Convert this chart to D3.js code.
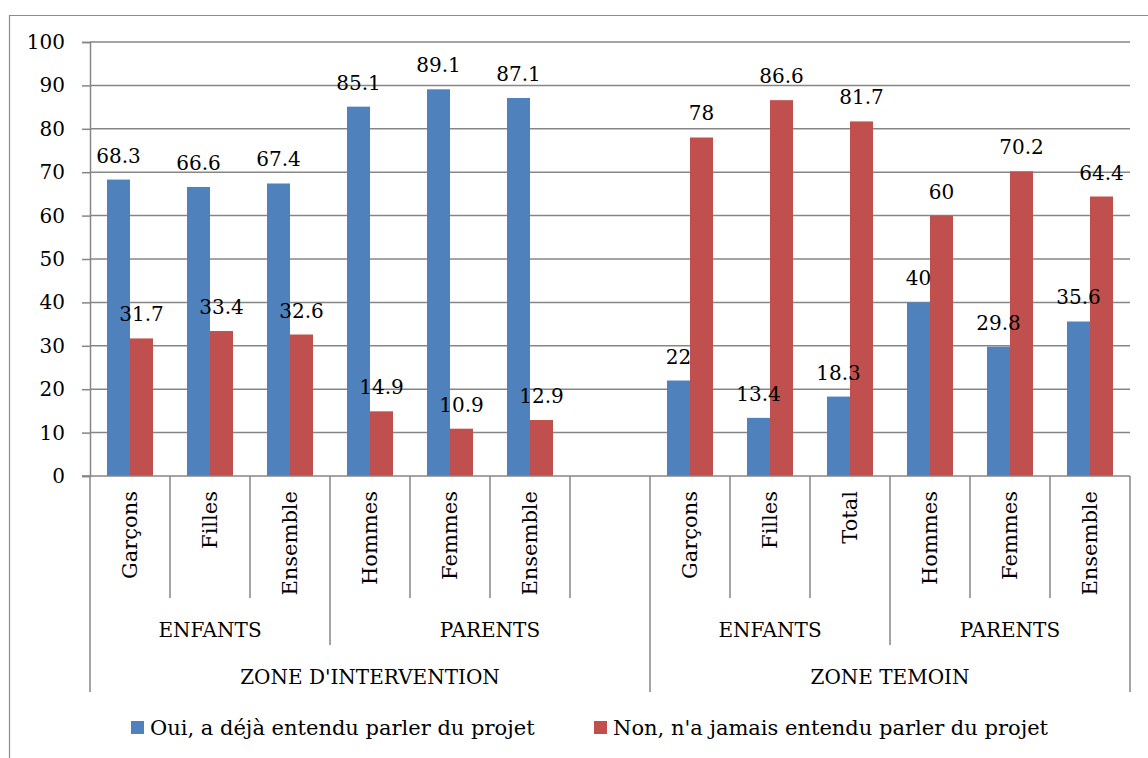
<!DOCTYPE html>
<html>
<head>
<meta charset="utf-8">
<script src="https://cdn.jsdelivr.net/npm/d3@7"></script>
<style>
  body { margin: 0; background: white; }
  text { font-family: "DejaVu Serif", serif; fill: #000; }
</style>
</head>
<body>
<div class="canvas"></div>
<script>
var width = 1148;
var height = 758;

// data
const categories = ["Garçons", "Filles", "Ensemble", "Hommes", "Femmes", "Ensemble", "",
                    "Garçons", "Filles", "Total", "Hommes", "Femmes", "Ensemble"];
const oui = [68.3, 66.6, 67.4, 85.1, 89.1, 87.1, null, 22, 13.4, 18.3, 40, 29.8, 35.6];
const non = [31.7, 33.4, 32.6, 14.9, 10.9, 12.9, null, 78, 86.6, 81.7, 60, 70.2, 64.4];
const groupLabels = ["ENFANTS", "PARENTS", "ENFANTS", "PARENTS"];
const groupStart = [0, 3, 7, 10];
const groupEnd = [3, 7, 10, 13];
const zoneLabels = ["ZONE D'INTERVENTION", "ZONE TEMOIN"];
const zoneStart = [0, 7];
const zoneEnd = [7, 13];
const seriesNames = ["Oui, a déjà entendu parler du projet", "Non, n'a jamais entendu parler du projet"];
const yTicks = [0, 10, 20, 30, 40, 50, 60, 70, 80, 90, 100];

const colors = ["#4F81BD", "#C0504D"];
const gridColor = "#868686";

const plot = { left: 90, right: 1130, top: 42, bottom: 476 };

var svg = d3.select(".canvas").append("svg")
    .attr("width", width)
    .attr("height", height)
    .style("background", "white");

// outer frame (top and left edges visible)
svg.append("path")
    .attr("d", "M9.5," + height + " V15.5 H" + width)
    .attr("fill", "none")
    .attr("stroke", "#8c8c8c")
    .attr("stroke-width", 1.2);

var idx = d3.range(categories.length);

var slot = d3.scaleBand().domain(idx).range([plot.left, plot.right]);
var x0 = d3.scaleBand().domain(idx).range([plot.left, plot.right])
    .paddingInner(0.425).paddingOuter(0.2125);
var x1 = d3.scaleBand().domain([0, 1]).range([0, x0.bandwidth()]);

var y = d3.scaleLinear().domain([0, 100]).range([plot.bottom, plot.top]);

// gridlines + y axis
var yAxis = d3.axisLeft(y).tickValues(yTicks).tickSize(8).tickPadding(17);
var gy = svg.append("g").attr("transform", "translate(" + plot.left + ",0)").call(yAxis);
gy.select(".domain").attr("stroke", gridColor).attr("stroke-width", 1.5);
gy.selectAll(".tick line").attr("stroke", gridColor).attr("stroke-width", 1.5);
gy.selectAll(".tick text").style("font-size", "20px").style("font-family", "DejaVu Serif").attr("fill", "#000");

svg.append("g").selectAll("line.grid")
    .data(yTicks.filter(d => d > 0))
    .enter().append("line")
    .attr("class", "grid")
    .attr("x1", plot.left).attr("x2", plot.right)
    .attr("y1", d => y(d)).attr("y2", d => y(d))
    .attr("stroke", gridColor).attr("stroke-width", 1.5);

// bars
var rows = idx.filter(i => oui[i] != null).map(i => ({ i: i, vals: [oui[i], non[i]] }));

var barGroups = svg.append("g").selectAll("g.cat")
    .data(rows)
    .enter().append("g")
    .attr("class", "cat")
    .attr("transform", d => "translate(" + x0(d.i) + ",0)");

barGroups.selectAll("rect")
    .data(d => d.vals.map((v, s) => ({ v: v, s: s })))
    .enter().append("rect")
    .attr("x", d => x1(d.s))
    .attr("width", x1.bandwidth())
    .attr("y", d => y(d.v))
    .attr("height", d => y(0) - y(d.v))
    .attr("fill", d => colors[d.s]);

barGroups.selectAll("text.val")
    .data(d => d.vals.map((v, s) => ({ v: v, s: s })))
    .enter().append("text")
    .attr("class", "val")
    .attr("x", d => x1(d.s) + x1.bandwidth() / 2)
    .attr("y", d => y(d.v) - 17)
    .attr("text-anchor", "middle")
    .style("font-size", "20px")
    .text(d => d.v);

// zero line
svg.append("line")
    .attr("x1", plot.left - 8).attr("x2", plot.right)
    .attr("y1", y(0)).attr("y2", y(0))
    .attr("stroke", gridColor).attr("stroke-width", 1.5);

// category axis dividers (multi-level)
var bounds = d3.range(categories.length + 1);
function boundX(k) { return k < categories.length ? slot(k) : plot.right; }
function boundEnd(k) {
    if (zoneStart.includes(k) || zoneEnd.includes(k)) return 692;
    if (groupStart.includes(k) || groupEnd.includes(k)) return 645;
    return 598;
}
svg.append("g").selectAll("line.div")
    .data(bounds)
    .enter().append("line")
    .attr("class", "div")
    .attr("x1", k => boundX(k)).attr("x2", k => boundX(k))
    .attr("y1", y(0)).attr("y2", k => boundEnd(k))
    .attr("stroke", gridColor).attr("stroke-width", 1.5);

// category labels (rotated)
svg.append("g").selectAll("text.cat")
    .data(idx)
    .enter().append("text")
    .attr("class", "cat")
    .attr("transform", i => "translate(" + (slot(i) + slot.bandwidth() / 2) + ",491) rotate(-90)")
    .attr("dy", "0.35em")
    .attr("text-anchor", "end")
    .style("font-size", "21px")
    .text(i => categories[i]);

// group labels
svg.append("g").selectAll("text.grp")
    .data(groupLabels)
    .enter().append("text")
    .attr("x", (d, g) => (boundX(groupStart[g]) + boundX(groupEnd[g])) / 2)
    .attr("y", 630)
    .attr("dy", "0.35em")
    .attr("text-anchor", "middle")
    .style("font-size", "20px")
    .text(d => d);

svg.append("g").selectAll("text.zone")
    .data(zoneLabels)
    .enter().append("text")
    .attr("x", (d, z) => (boundX(zoneStart[z]) + boundX(zoneEnd[z])) / 2)
    .attr("y", 677)
    .attr("dy", "0.35em")
    .attr("text-anchor", "middle")
    .style("font-size", "20px")
    .text(d => d);

// legend
var legendX = [131, 594];
var legend = svg.append("g").selectAll("g.leg")
    .data(seriesNames)
    .enter().append("g")
    .attr("transform", (d, s) => "translate(" + legendX[s] + ",721)");
legend.append("rect")
    .attr("width", 13).attr("height", 13)
    .attr("fill", (d, s) => colors[s]);
legend.append("text")
    .attr("x", 19).attr("y", 6.5)
    .attr("dy", "0.35em")
    .style("font-size", "21px")
    .text(d => d);
</script>
</body>
</html>
